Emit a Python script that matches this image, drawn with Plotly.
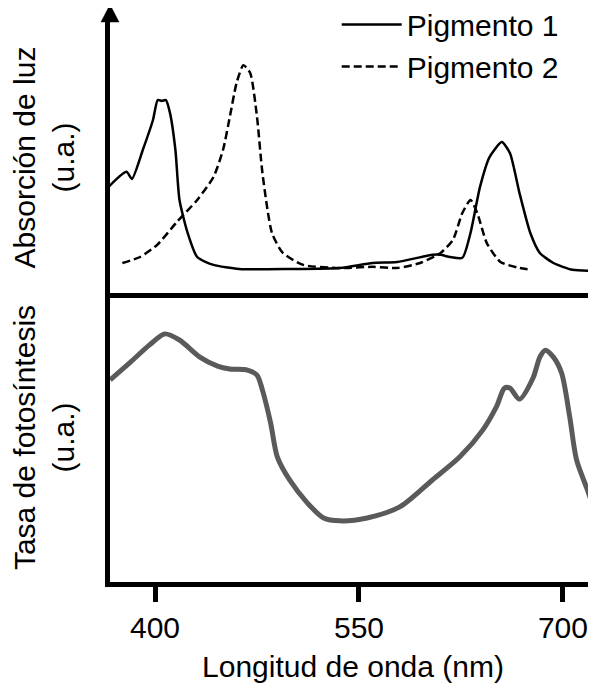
import plotly.graph_objects as go
from plotly.subplots import make_subplots

# Pigmento 1 (solid) - absorption, u.a.
p1_nm = [365, 379, 383, 391, 398.5, 402, 405, 408, 411, 415, 418, 424, 431, 443, 462, 499, 536,
         560, 578, 604, 610, 617, 626, 632, 639, 646, 655, 661, 668, 676, 683, 693, 707, 722]
p1_abs = [39.2, 45.1, 42.5, 53.1, 64.1, 71.4, 71.1, 71.4, 66.7, 53.1, 34.8, 22.7, 13.9, 11.0, 9.5, 9.5, 9.9,
          11.7, 12.1, 14.7, 14.7, 13.9, 13.6, 22.7, 39.6, 50.5, 56.0, 52.0, 37.4, 22.7, 15.4, 11.7, 9.2, 8.8]

# Pigmento 2 (dashed)
p2_nm = [376, 389, 401.5, 416, 431, 443, 450, 455, 460, 465, 470, 475, 479, 486, 494, 509, 536,
         560, 578, 595, 610, 619, 626, 632, 637, 644, 654, 668, 677]
p2_abs = [11.7, 13.9, 18.3, 26.7, 34.8, 43.2, 53.1, 65.2, 77.7, 84.2, 81.3, 65.2, 44.7, 22.7, 15.4, 11.0, 9.9,
          10.3, 9.9, 11.7, 15.4, 20.1, 30.0, 34.8, 30.0, 19.0, 12.1, 9.9, 9.2]

# Tasa de fotosintesis (gray)
ps_nm = [367, 382, 396, 407, 418, 433, 446, 455, 468, 475, 479, 485, 490, 499, 512, 524, 536,
         556, 580, 604, 624, 641, 651, 657, 661, 668, 678, 683, 687, 693, 699, 705, 710, 718, 724]
ps_rate = [70.7, 76.9, 82.8, 86.6, 84.5, 78.6, 75.5, 74.5, 74.1, 72.4, 67.2, 55.9, 44.1, 36.2, 28.3, 23.1, 22.1,
           23.1, 26.9, 36.2, 44.1, 53.4, 61.4, 67.9, 67.9, 64.1, 71.4, 78.6, 81.0, 78.6, 73.1, 57.9, 43.1, 32.8, 24.8]

tick_vals = [400, 550, 700]

FONT = "Liberation Sans, Arial, sans-serif"

fig = make_subplots(rows=2, cols=1, shared_xaxes=True, vertical_spacing=0,
                    row_heights=[0.484, 0.516])

fig.add_trace(go.Scatter(x=p1_nm, y=p1_abs, mode="lines", name="Pigmento 1",
                         line=dict(color="black", width=2.5, shape="spline", smoothing=0.6)),
              row=1, col=1)
fig.add_trace(go.Scatter(x=p2_nm, y=p2_abs, mode="lines", name="Pigmento 2",
                         line=dict(color="black", width=2.5, dash="8px,4px", shape="spline", smoothing=0.6)),
              row=1, col=1)
fig.add_trace(go.Scatter(x=ps_nm, y=ps_rate, mode="lines", showlegend=False,
                         line=dict(color="#5a5a5a", width=5, shape="spline", smoothing=0.8)),
              row=2, col=1)

xr = [366.9, 724.3]
fig.update_xaxes(range=xr, showgrid=False, zeroline=False, showline=True, linewidth=5, linecolor="black")
fig.update_xaxes(ticks="", showticklabels=False, row=1, col=1)
fig.update_xaxes(tickvals=tick_vals, ticks="outside", ticklen=15, tickwidth=5, tickcolor="black",
                 tickfont=dict(size=30, color="black", family=FONT),
                 title=dict(text="Longitud de onda (nm)", font=dict(size=30, color="black", family=FONT),
                            standoff=14),
                 row=2, col=1)

fig.update_yaxes(showgrid=False, zeroline=False, showline=True, linewidth=5, linecolor="black",
                 showticklabels=False, ticks="")
fig.update_yaxes(range=[0.7, 100], row=1, col=1,
                 title=dict(text="Absorción de luz<br>(u.a.)", font=dict(size=30, color="black", family=FONT),
                            standoff=30))
fig.update_yaxes(range=[1, 100.7], row=2, col=1,
                 title=dict(text="Tasa de fotosíntesis<br>(u.a.)", font=dict(size=30, color="black", family=FONT),
                            standoff=30))

# arrow head on top of the vertical axis
fig.add_shape(type="path", xref="paper", yref="paper",
              path="M -0.0185,1 L 0.0185,1 L 0,1.031 Z",
              fillcolor="black", line=dict(color="black", width=0.5))

# page body adds an 8px margin, so the figure is smaller than the window
fig.update_layout(
    width=588, height=678,
    margin=dict(l=102, r=0, t=14, b=104, autoexpand=False),
    plot_bgcolor="white", paper_bgcolor="white",
    font=dict(family=FONT, color="black"),
    legend=dict(x=0.4665, y=1.042, xanchor="left", yanchor="top",
                font=dict(size=30, color="black", family=FONT),
                bgcolor="rgba(0,0,0,0)", itemwidth=60, tracegroupgap=0),
)

fig.write_html("out.html")
